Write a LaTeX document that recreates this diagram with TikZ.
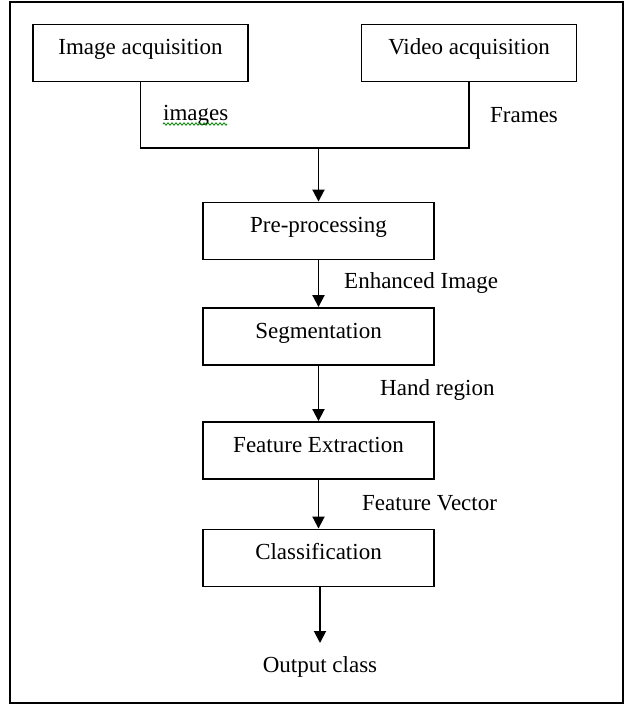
\documentclass[tikz,border=0pt]{standalone}
\usepackage{fontspec}
\setmainfont{Liberation Serif}
\usetikzlibrary{arrows.meta,decorations.pathmorphing}
\begin{document}
\begin{tikzpicture}[x=1pt,y=-1pt,
  box/.style={draw,line width=1.9pt,inner sep=0pt,text height=30pt,text depth=27pt,font=\fontsize{23}{26}\selectfont},
  topbox/.style={box,minimum width=215pt},
  stepbox/.style={box,minimum width=231pt},
  lbl/.style={inner sep=0pt,anchor=base west,font=\fontsize{23}{26}\selectfont},
  conn/.style={line width=1.9pt},
  arr/.style={line width=1.9pt,-{Triangle[width=12pt,length=12pt]}}]
\useasboundingbox (0,0) rectangle (635,710);
\draw[line width=1.9pt] (10,2) rectangle (623,703);
\node[topbox] (img) at (140.5,53) {Image acquisition};
\node[topbox] (vid) at (469,53) {Video acquisition};
\node[stepbox] (pre) at (318.5,231) {Pre-processing};
\node[stepbox] (seg) at (318.5,336.5) {Segmentation};
\node[stepbox] (fe) at (318.5,450.5) {Feature Extraction};
\node[stepbox] (cl) at (318.5,558) {Classification};
\node[inner sep=0pt,anchor=base,font=\fontsize{23}{26}\selectfont] (out) at (320,672) {Output class};
\coordinate (jl) at (140.5,148);
\coordinate (jr) at (469,148);
\coordinate (jm) at (318.5,148);
\coordinate (outtip) at (320,643);
\draw[conn] (img.south) -- (jl) -- (jr) -- (vid.south);
\draw[arr] (jm) -- (pre.north);
\draw[arr] (pre.south) -- (seg.north);
\draw[arr] (seg.south) -- (fe.north);
\draw[arr] (fe.south) -- (cl.north);
\draw[arr] (cl.south -| outtip) -- (outtip);
\node[lbl] (limg) at (163,120) {images};
\draw[green!50!black,line width=0.8pt,decorate,decoration={zigzag,segment length=4pt,amplitude=1.2pt}] (limg.base west) ++(0,4) -- ++(64,0);
\node[lbl] (lfr) at (490,122) {Frames};
\node[lbl] (lenh) at (344,288) {Enhanced Image};
\node[lbl] (lhand) at (380,395) {Hand region};
\node[lbl] (lfv) at (362,510) {Feature Vector};
\end{tikzpicture}
\end{document}
